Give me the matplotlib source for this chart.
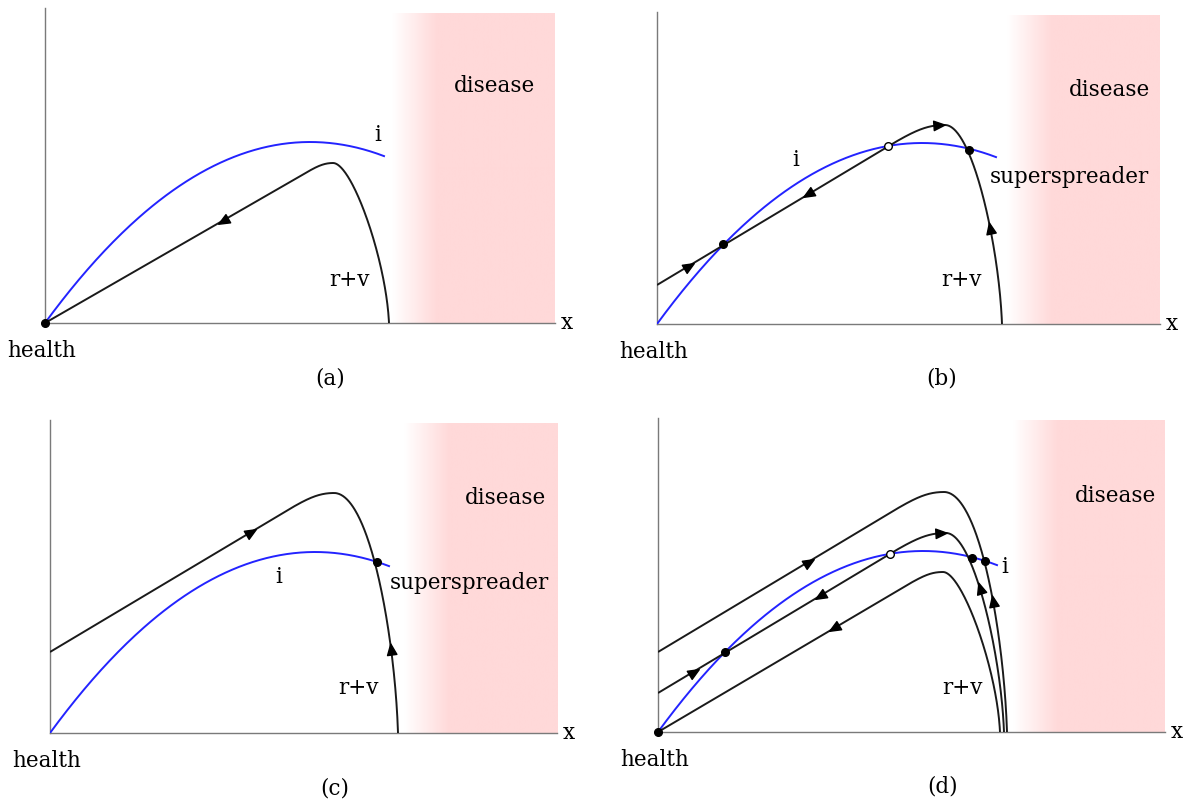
import numpy as np
import matplotlib.pyplot as plt
from matplotlib.bezier import BezierSegment
from matplotlib.colors import LinearSegmentedColormap
from matplotlib.markers import MarkerStyle
from matplotlib.path import Path
from matplotlib.transforms import Affine2D

plt.rcParams['font.family'] = ['DejaVu Serif']

# i curve (blue), quadratic bezier control points, same in all four panels
i_curve = [(0.0, 0.0), (1.695, 2.315), (3.39, 1.669)]

# r+v trajectories: start y, slope, knee x, peak x, peak y, end x, turn
traj_a = [(0.0, 0.575, 2.45, 2.88, 1.60, 3.44, 0.19)]
traj_b = [(0.39, 0.60, 2.30, 2.88, 1.99, 3.45, 0.27)]
traj_c = [(0.81, 0.597, 2.20, 2.84, 2.40, 3.48, 0.36)]
traj_d = [(0.80, 0.60, 2.20, 2.86, 2.40, 3.49, 0.36),
          (0.39, 0.60, 2.30, 2.88, 1.99, 3.46, 0.27),
          (0.0, 0.59, 2.45, 2.85, 1.60, 3.42, 0.19)]

# arrows: curve index, x, y, direction (+1 along the curve, -1 against it)
arrows_a = [(0, 1.77, 1.04, -1)]
arrows_b = [(0, 0.32, 0.58, 1), (0, 1.51, 1.30, -1), (0, 2.82, 1.99, 1), (0, 3.33, 0.96, -1)]
arrows_c = [(0, 2.01, 2.01, 1), (0, 3.41, 0.85, -1)]
arrows_d = [(0, 1.51, 1.71, 1), (0, 3.35, 1.31, -1),
            (1, 0.36, 0.61, 1), (1, 1.60, 1.38, -1), (1, 2.83, 2.00, 1), (1, 3.24, 1.44, -1),
            (2, 1.76, 1.04, -1)]

# fixed points
dots_a = [(0.0, 0.0)]
dots_b = [(0.66, 0.80), (3.12, 1.74)]
dots_c = [(3.27, 1.71)]
dots_d = [(0.0, 0.0), (0.67, 0.80), (3.14, 1.74), (3.27, 1.71)]
open_b = [(2.31, 1.78)]
open_d = [(2.32, 1.78)]

BLUE = '#2323ff'
PINK = '#ffd9d9'
GREY = '#7a7a7a'
FS = 15.5


def trajectory(y0, s, kx, px, py, ex, turn):
    ky = y0 + s * kx
    a = (px - kx) * 0.5
    seg0 = BezierSegment(np.array([(0.0, y0), (kx, ky)]))
    seg1 = BezierSegment(np.array([(kx, ky), (kx + a, ky + a * s),
                                   (px - (px - kx) * 0.3, py), (px, py)]))
    seg2 = BezierSegment(np.array([(px, py), (px + turn, py),
                                   (ex - 0.03, py * 0.4), (ex, 0.0)]))
    t = np.linspace(0, 1, 150)
    return np.vstack([seg0(t), seg1(t), seg2(t)])


arrow_head = Path([(-1, -0.85), (1, 0), (-1, 0.85), (-1, -0.85)],
                  [Path.MOVETO, Path.LINETO, Path.LINETO, Path.CLOSEPOLY])


def add_arrow(ax, pts, x, y, sign):
    d = np.hypot(pts[:, 0] - x, pts[:, 1] - y)
    k = int(np.argmin(d))
    k0, k1 = max(k - 2, 0), min(k + 2, len(pts) - 1)
    dx, dy = (pts[k1] - pts[k0]) * sign
    ang = np.degrees(np.arctan2(dy, dx))
    m = MarkerStyle(arrow_head, transform=Affine2D().rotate_deg(ang))
    ax.plot(pts[k, 0], pts[k, 1], marker=m, color='black', markersize=8,
            linestyle='none', zorder=5)


fig = plt.figure(figsize=(11.89, 7.99), dpi=100)
W, H = 1189, 799
pink_map = LinearSegmentedColormap.from_list('pk', ['white', PINK])

panels = [
    # origin x, origin y, x end, y top, disease start, disease top (pixels)
    dict(frame=(45, 323, 555, 8, 392, 13), trajs=traj_a, arrows=arrows_a,
         dots=dots_a, opens=[], tag='(a)',
         labels=[('i', 3.33, 1.88), ('r+v', 3.04, 0.43)]),
    dict(frame=(657, 324, 1160, 12, 1007, 15), trajs=traj_b, arrows=arrows_b,
         dots=dots_b, opens=open_b, tag='(b)',
         labels=[('i', 1.39, 1.64), ('superspreader', 4.12, 1.47), ('r+v', 3.04, 0.44)]),
    dict(frame=(50, 733, 557, 420, 404, 423), trajs=traj_c, arrows=arrows_c,
         dots=dots_c, opens=[], tag='(c)',
         labels=[('i', 2.29, 1.56), ('superspreader', 4.19, 1.50), ('r+v', 3.08, 0.45)]),
    dict(frame=(658, 732, 1165, 418, 1013, 420), trajs=traj_d, arrows=arrows_d,
         dots=dots_d, opens=open_d, tag='(d)',
         labels=[('i', 3.47, 1.65), ('r+v', 3.04, 0.44)]),
]

for p in panels:
    ox, oy, xe, yt, ds, dt = p['frame']
    ax = fig.add_axes([ox / W, (H - oy) / H, (xe - ox) / W, (oy - yt) / H])
    xmax, ymax = (xe - ox) / 100, (oy - yt) / 100

    # disease region, white to pink fade on its left edge
    x0 = (ds - ox) / 100
    ramp = np.clip((np.linspace(x0, xmax, 300) - x0) / 0.45, 0, 1)[None, :]
    ax.imshow(ramp, cmap=pink_map, extent=[x0, xmax, 0, (oy - dt) / 100],
              aspect='auto', zorder=0, vmin=0, vmax=1)

    seg = BezierSegment(np.array(i_curve))
    ipts = seg(np.linspace(0, 1, 200))
    ax.plot(ipts[:, 0], ipts[:, 1], color=BLUE, lw=1.4, zorder=3)

    curves = []
    for tr in p['trajs']:
        pts = trajectory(*tr)
        curves.append(pts)
        ax.plot(pts[:, 0], pts[:, 1], color='#1a1a1a', lw=1.4, zorder=3,
                solid_capstyle='butt')
    for ci, x, y, sgn in p['arrows']:
        add_arrow(ax, curves[ci], x, y, sgn)

    for x, y in p['dots']:
        ax.plot(x, y, 'o', color='black', markersize=5.5, zorder=6, clip_on=False)
    for x, y in p['opens']:
        ax.plot(x, y, 'o', mfc='white', mec='black', mew=1, markersize=5.5, zorder=6)

    ax.set_xlim(0, xmax)
    ax.set_ylim(0, ymax)
    for side in ['top', 'right']:
        ax.spines[side].set_visible(False)
    for side in ['left', 'bottom']:
        ax.spines[side].set_color(GREY)
        ax.spines[side].set_linewidth(1.0)
    ax.set_xticks([])
    ax.set_yticks([])
    ax.patch.set_alpha(0)

    ax.text(xmax + 0.12, 0.0, 'x', fontsize=FS, ha='center', va='center', clip_on=False)
    ax.text(-0.03, -0.28, 'health', fontsize=FS, ha='center', va='center', clip_on=False)
    ax.text(2.85, -0.55, p['tag'], fontsize=FS, ha='center', va='center', clip_on=False)
    ax.text(x0 + 1.02, (oy - yt) / 100 - 0.78, 'disease', fontsize=FS,
            ha='center', va='center')
    for s, x, y in p['labels']:
        ax.text(x, y, s, fontsize=FS, ha='center', va='center', clip_on=False)

fig.savefig('out.png', dpi=100, facecolor='white')
